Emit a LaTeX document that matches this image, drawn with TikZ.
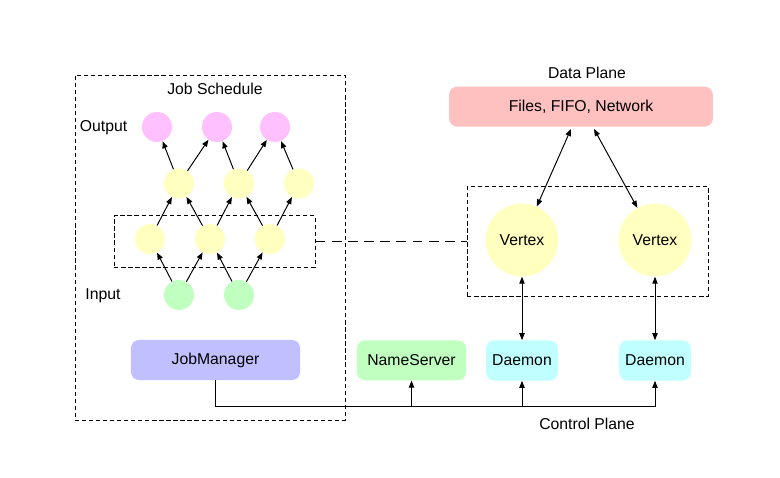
\documentclass[tikz,border=0pt]{standalone}
\usepackage{fontspec}
\setmainfont{Liberation Sans}
\usepackage{xcolor}
\usepackage{tikz}
\usetikzlibrary{arrows.meta}
\definecolor{outc}{HTML}{FFC0FF}
\definecolor{hidc}{HTML}{FFFFC0}
\definecolor{inc}{HTML}{C0FFC0}
\definecolor{jmc}{HTML}{C0C0FF}
\definecolor{dmc}{HTML}{C0FFFF}
\definecolor{filec}{HTML}{FFC0C0}
\tikzset{
  base/.style={draw=black, line width=0.7pt},
  arr/.style={base, -{Triangle[length=5pt,width=3.8pt]}},
  darr/.style={base, {Triangle[length=5pt,width=3.8pt]}-{Triangle[length=5pt,width=3.8pt]}},
  dashbox/.style={draw=black, line width=0.6pt, dash pattern=on 3pt off 2pt, inner sep=0pt},
  longdash/.style={draw=black, line width=0.7pt, dash pattern=on 7pt off 4.5pt},
  dot/.style={circle, inner sep=0pt, minimum size=0.75cm},
  vert/.style={circle, fill=hidc, inner sep=0pt, minimum size=1.82cm, lab},
  box/.style={rounded corners=0.2cm, minimum height=1.0cm, lab},
  lab/.style={text=black, font=\fontsize{11.2}{13}\selectfont},
}
\begin{document}
\begin{tikzpicture}[x=0.025cm,y=-0.025cm]
  \useasboundingbox (0,0) rectangle (780,478);

  % job schedule frame and labels
  \node[dashbox, minimum width=6.75cm, minimum height=8.625cm] (sched) at (210,247.5) {};
  \node[lab] (schedlab) at (215,89) {Job Schedule};
  \node[lab] (outlab) at (103.5,128) {Output};
  \node[lab] (inlab) at (103,296) {Input};

  % output layer
  \node[dot, fill=outc] (o1) at (157,127) {};
  \node[dot, fill=outc] (o2) at (217,127) {};
  \node[dot, fill=outc] (o3) at (275,127) {};

  % upper hidden layer
  \node[dot, fill=hidc] (h1) at (179,183.5) {};
  \node[dot, fill=hidc] (h2) at (239,183.5) {};
  \node[dot, fill=hidc] (h3) at (299,183.5) {};

  % lower hidden layer (the one that is mapped to vertices)
  \node[dashbox, minimum width=5.02cm, minimum height=1.29cm] (hidbox) at (214.7,241.5) {};
  \node[dot, fill=hidc] (l1) at (150,239) {};
  \node[dot, fill=hidc] (l2) at (210,239) {};
  \node[dot, fill=hidc] (l3) at (270,239) {};

  % input layer
  \node[dot, fill=inc] (i1) at (179,295) {};
  \node[dot, fill=inc] (i2) at (239,295) {};

  \draw[arr] (i1)--(l1);
  \draw[arr] (i1)--(l2);
  \draw[arr] (i2)--(l2);
  \draw[arr] (i2)--(l3);
  \draw[arr] (l1)--(h1);
  \draw[arr] (l2)--(h1);
  \draw[arr] (l2)--(h2);
  \draw[arr] (l3)--(h2);
  \draw[arr] (l3)--(h3);
  \draw[arr] (h1)--(o1);
  \draw[arr] (h1)--(o2);
  \draw[arr] (h2)--(o2);
  \draw[arr] (h2)--(o3);
  \draw[arr] (h3)--(o3);

  % data plane
  \node[lab] (datalab) at (587,73) {Data Plane};
  \node[box, fill=filec, minimum width=6.59cm] (files) at (581,106.7) {Files, FIFO, Network};
  \node[dashbox, minimum width=6.025cm, minimum height=2.73cm] (vbox) at (587.8,241.5) {};
  \node[vert] (v1) at (522,240) {Vertex};
  \node[vert] (v2) at (655,240) {Vertex};
  \coordinate (f1) at ([xshift=-0.25cm,yshift=-0.05cm]files.south);
  \coordinate (f2) at ([xshift=0.325cm,yshift=-0.05cm]files.south);
  \draw[darr] (f1)--(v1);
  \draw[darr] (f2)--(v2);
  \draw[longdash] (hidbox.east)--(vbox.west);

  % control plane
  \node[box, fill=jmc, minimum width=4.225cm] (jm) at (215.5,360) {JobManager};
  \node[box, fill=inc, minimum width=2.725cm] (ns) at (411.5,360.3) {NameServer};
  \node[box, fill=dmc, minimum width=1.79cm] (d1) at (522,360.5) {Daemon};
  \node[box, fill=dmc, minimum width=1.79cm] (d2) at (655,360.5) {Daemon};
  \node[lab] (ctllab) at (587,424) {Control Plane};
  \coordinate (ctl) at (0,406);

  \draw[darr] (v1)--(d1);
  \draw[darr] (v2)--(d2);
  \draw[arr] (jm.south) |- (d2.south |- ctl) -- (d2.south);
  \draw[arr] (ns.south |- ctl) -- (ns.south);
  \draw[arr] (d1.south |- ctl) -- (d1.south);
\end{tikzpicture}
\end{document}
